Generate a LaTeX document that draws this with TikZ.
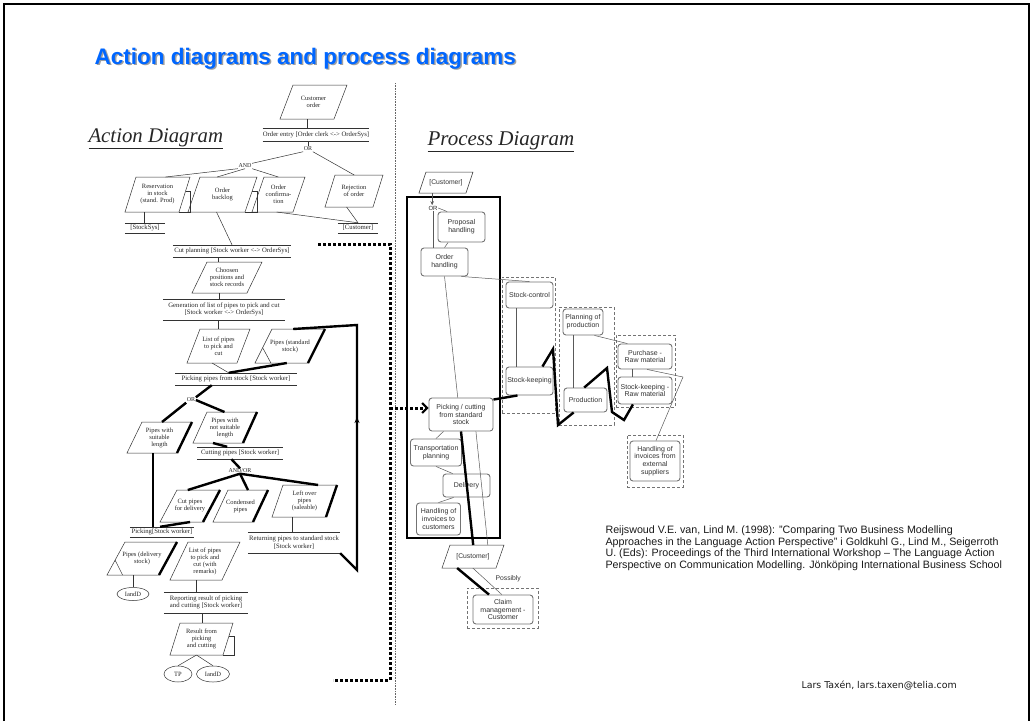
\documentclass[tikz,border=0pt]{standalone}
\usepackage{fontspec}
\setmainfont{Liberation Serif}
\newfontfamily\arialf{Liberation Sans}
\newfontfamily\verdf{DejaVu Sans}
\usetikzlibrary{calc,arrows.meta,shapes.geometric}

\definecolor{titleblue}{RGB}{0,102,255}
\definecolor{shadowgray}{RGB}{160,160,160}

\tikzset{
  pline/.style={draw=black!80, line width=0.5pt},
  thk/.style={draw=black, line width=2.4pt},
  ptxt/.style={font=\fontsize{6.5}{7}\selectfont, align=center, inner sep=0pt, text=black!85},
  actl/.style={font=\fontsize{6.7}{7.6}\selectfont, align=center, inner sep=0pt, text=black!85},
  gate/.style={font=\fontsize{6}{6.5}\selectfont, inner sep=0.5pt, text=black!85},
  oval/.style={ellipse, pline, font=\fontsize{6.5}{7}\selectfont, inner sep=0pt, text=black!85},
  pbox/.style={draw=black!55, line width=0.9pt, rounded corners=3pt, fill=white,
    font=\arialf\fontsize{7}{7.8}\selectfont, align=center, inner sep=0pt, text=black!80},
  grp/.style={draw=black!55, line width=0.8pt, dash pattern=on 3pt off 2pt, inner sep=0pt},
  cline/.style={draw=black!65, line width=0.5pt},
  sqdot/.style={draw=black, line width=3pt, dash pattern=on 3pt off 2pt},
  sepline/.style={draw=black!60, line width=0.8pt, dash pattern=on 1pt off 0.6pt},
  diagtitle/.style={anchor=base west, font=\itshape\fontsize{20.8}{24}\selectfont, text=black!85},
}

% parallelogram: name, x top-left, x top-right, y top, x bottom-left, y bottom, text
\newcommand\pgm[7]{%
  \coordinate (#1-tl) at (#2,#4);
  \coordinate (#1-tr) at (#3,#4);
  \coordinate (#1-bl) at (#5,#6);
  \coordinate (#1-br) at ($(#5,#6)+(#3,0)-(#2,0)$);
  \coordinate (#1-t) at ($(#1-tl)!0.5!(#1-tr)$);
  \coordinate (#1-b) at ($(#1-bl)!0.5!(#1-br)$);
  \draw[pline] (#1-tl) -- (#1-tr) -- (#1-br) -- (#1-bl) -- cycle;
  \node[ptxt] (#1) at ($(#1-tl)!0.5!(#1-br)$) {#7};
}
% action label between two rules: name, x, y, width, height, text
\newcommand\actn[6]{%
  \node[actl, minimum width=#4, minimum height=#5] (#1) at (#2,#3) {#6};
  \draw[pline] (#1.north west) -- (#1.north east) (#1.south west) -- (#1.south east);
}
% stacked-document fold on the right side
\newcommand\docfold[1]{\draw[pline] ($(#1-tr)!0.4!(#1-br)$) -- ++(5,0) |- (#1-br);}
% stock marker in the lower left corner
\newcommand\stockmark[1]{\draw[pline] ($(#1-bl)!0.45!(#1-tl)$) -- ($(#1-bl)!0.3!(#1-br)$);}
% heavy right edge
\newcommand\heavyedge[1]{\draw[thk] (#1-tr) -- (#1-br);}

\begin{document}
\begin{tikzpicture}[x=1pt,y=-1pt]
\useasboundingbox (0,0) rectangle (1033,721);

% page frame
\draw[line width=2.5pt] (4,721) -- (4,4) -- (1029,4) -- (1029,721);

% heading
\node[anchor=base west, font=\arialf\bfseries\fontsize{22.5}{27}\selectfont, text=shadowgray]
  (titleshadow) at (92.5,65.5) {Action diagrams and process diagrams};
\node[anchor=base west, font=\arialf\bfseries\fontsize{22.5}{27}\selectfont, text=titleblue]
  (title) at (91,64) {Action diagrams and process diagrams};

% divider between the two diagrams
\coordinate (sepT) at (395,83);
\coordinate (sepB) at (395,705);
\draw[sepline] (sepT) -- (sepB);

%================ ACTION DIAGRAM =================
\node[diagtitle] (adtitle) at (85,142) {\underline{Action Diagram}};

\pgm{custord}{293}{347}{85}{280}{119}{Customer\\order}
\actn{oe}{316}{134.5}{104}{13}{Order entry [Order clerk <-> OrderSys]}
\draw[pline] (custord-b) -- (custord-b |- oe.north);

\node[gate] (or1) at (308,149) {OR};
\draw[pline] (oe.south -| or1) -- (or1.north);
\node[gate] (and1) at (245,166) {AND};

\pgm{resv}{136}{190}{177}{125}{212}{Reservation\\in stock\\(stand. Prod)}
\docfold{resv}
\pgm{backlog}{200}{257}{177}{188}{212}{Order\\backlog}
\docfold{backlog}
\pgm{confirm}{264}{305}{177}{252}{212}{Order\\confirma-\\tion}
\pgm{rej}{335}{383}{175}{325}{207}{Rejection\\of order}

\draw[pline] (or1.south west) -- (and1.north east);
\draw[pline] (or1.south east) -- ($(rej-tl)!0.4!(rej-tr)$);
\draw[pline] (and1.south west) -- ($(resv-tl)!0.55!(resv-tr)$);
\draw[pline] (and1.south) -- ($(backlog-tl)!0.3!(backlog-tr)$);
\draw[pline] (and1.south east) -- ($(confirm-tl)!0.35!(confirm-tr)$);

\actn{stocksys}{145}{228}{40}{10}{[StockSys]}
\actn{cust1}{358}{228}{40}{10}{[Customer]}
\coordinate (resvout) at ($(resv-bl)!0.35!(resv-br)$);
\draw[pline] (resvout) -- (resvout |- stocksys.north);
\draw[pline] ($(confirm-bl)!0.6!(confirm-br)$) -- (cust1.north);
\draw[pline] ($(rej-bl)!0.45!(rej-br)$) -- (cust1.north);

\actn{cutp}{232}{251}{118}{12}{Cut planning [Stock worker <-> OrderSys]}
\draw[pline] (backlog-b) -- (cutp.north);

\pgm{choosen}{207}{262}{262}{192}{293}{Choosen\\positions and\\stock records}
\coordinate (chin) at ($(choosen-tl)!0.2!(choosen-tr)$);
\draw[pline] (chin |- cutp.south) -- (chin);

\actn{gen}{224}{309.5}{122}{21}{Generation of list of pipes to pick and cut\\{[Stock worker <-> OrderSys]}}
\draw[pline] (choosen-b) -- (choosen-b |- gen.north);

\pgm{list1}{200}{250}{329}{187}{363}{List of pipes\\to pick and\\cut}
\coordinate (l1in) at ($(list1-tl)!0.36!(list1-tr)$);
\draw[pline] (l1in |- gen.south) -- (l1in);

\pgm{pstd}{272}{325}{329}{255}{363}{Pipes (standard\\stock)}
\heavyedge{pstd}
\stockmark{pstd}

\actn{pick}{236}{379}{121}{12}{Picking pipes from stock [Stock worker]}
\draw[pline] (list1-b) -- ($(pick.north west)!0.44!(pick.north east)$);
\draw[thk] ($(pick.north west)!0.44!(pick.north east)$) -- ($(pstd-bl)!0.6!(pstd-br)$);

\node[gate] (or2) at (191,400) {OR};
\draw[thk] ($(pick.south west)!0.3!(pick.south east)$) -- (or2.north east);

\pgm{suit}{142}{192}{422}{127}{453}{Pipes with\\suitable\\length}
\heavyedge{suit}
\pgm{notsuit}{207}{257}{412}{193}{443}{Pipes with\\not suitable\\length}
\heavyedge{notsuit}
\draw[thk] (or2.south west) -- ($(suit-tl)!0.4!(suit-tr)$);
\draw[thk] (or2.east) -- ($(notsuit-tl)!0.35!(notsuit-tr)$);

\actn{cut}{240}{453}{85}{12}{Cutting pipes [Stock worker]}
\draw[thk] ($(notsuit-bl)!0.4!(notsuit-br)$) -- ($(cut.north west)!0.35!(cut.north east)$);

\node[gate] (andor) at (240,471) {AND/OR};
\draw[thk] ($(cut.south west)!0.4!(cut.south east)$) -- (andor.north);

\pgm{cutdel}{177}{220}{490}{160}{522}{Cut pipes\\for delivery}
\heavyedge{cutdel}
\pgm{cond}{228}{268}{490}{213}{522}{Condensed\\pipes}
\heavyedge{cond}
\pgm{leftover}{283}{337}{485}{272}{517}{Left over\\pipes\\(saleable)}
\heavyedge{leftover}
\draw[thk] (andor.south) -- ($(cutdel-tl)!0.25!(cutdel-tr)$);
\draw[thk] (andor.south) -- ($(cond-tl)!0.5!(cond-tr)$);
\draw[thk] (andor.south) -- ($(leftover-tl)!0.65!(leftover-tr)$);

\actn{pkg}{162}{532}{64}{10}{Picking[Stock worker]}
\coordinate (suitout) at ($(suit-bl)!0.52!(suit-br)$);
\draw[thk] (suitout) -- (suitout |- pkg.north);
\draw[thk] ($(cutdel-bl)!0.7!(cutdel-br)$) -- ($(pkg.north west)!0.47!(pkg.north east)$);

\actn{ret}{294}{542.5}{92}{21}{Returning pipes to standard stock\\{[Stock worker]}}
\coordinate (loout) at ($(leftover-bl)!0.37!(leftover-br)$);
\draw[pline] (loout) -- (loout |- ret.north);

% returned pipes go back to the standard stock
\coordinate (retlow) at (357,570);
\coordinate (rettop) at (357,325);
\coordinate (retarrow) at (357,417);
\draw[thk] (ret.south east) -- (retlow) -- (rettop) -- ($(pstd-tl)!0.4!(pstd-tr)$);
\draw[thk, -{Stealth[length=6pt,width=5pt]}] (retlow) -- (retarrow);

\pgm{pdel}{125}{177}{542}{107}{575}{Pipes (delivery\\stock)}
\heavyedge{pdel}
\stockmark{pdel}
\pgm{list2}{188}{240}{542}{170}{580}{List of pipes\\to pick and\\cut (with\\remarks)}

\node[oval, minimum width=32pt, minimum height=13pt] (iand1) at (133,594) {IandD};
\draw[pline] (pdel-b) -- (iand1.north);

\actn{rep}{206}{602.5}{84}{21}{Reporting result of picking\\and cutting [Stock worker]}
\draw[pline] (list2-b) -- (list2-b |- rep.north);

\pgm{result}{180}{233}{623}{170}{655}{Result from\\picking\\and cutting}
\docfold{result}
\coordinate (resin) at ($(result-tl)!0.42!(result-tr)$);
\draw[pline] (resin |- rep.south) -- (resin);

\node[oval, minimum width=28pt, minimum height=16pt] (tp) at (178,674) {TP};
\node[oval, minimum width=33pt, minimum height=16pt] (iand2) at (213,674) {IandD};
\draw[pline] (result-b) -- (tp.north);
\draw[pline] (result-b) -- (iand2.north);

%================ PROCESS DIAGRAM =================
\node[diagtitle, font=\itshape\fontsize{21}{24}\selectfont] (pdtitle) at (424,145) {\underline{Process Diagram}};

\begin{scope}[ptxt/.append style={font=\arialf\fontsize{6.8}{7.6}\selectfont, text=black!80}]
\pgm{custp1}{426}{473}{172}{419}{193}{[Customer]}
\end{scope}

\node[draw=black, line width=1.2pt, minimum width=93pt, minimum height=341pt, inner sep=0pt]
  (orderproc) at (453.5,367.5) {};

\node[gate, font=\arialf\fontsize{6}{6.5}\selectfont] (orp) at (433,208) {OR};
\coordinate (cpout) at ($(custp1-bl)!0.28!(custp1-br)$);
\draw[cline, -{Stealth[length=4pt,width=3.5pt]}] (cpout) -- (cpout |- orp.north);

% dashed groups
\node[grp, minimum width=53pt, minimum height=136pt] (g1) at (528.5,345) {};
\node[grp, minimum width=55pt, minimum height=118pt] (g2) at (586.5,366) {};
\node[grp, minimum width=59pt, minimum height=72pt] (g3) at (645.5,371) {};
\node[grp, minimum width=56pt, minimum height=52pt] (g4) at (655,461) {};
\node[grp, minimum width=71pt, minimum height=40pt] (g5) at (502.5,608) {};

\node[pbox, minimum width=47pt, minimum height=30pt] (prop) at (461.5,227) {Proposal\\handling};
\node[pbox, minimum width=47pt, minimum height=28pt] (ordh) at (444.5,262) {Order\\handling};
\node[pbox, minimum width=47pt, minimum height=26pt] (sctl) at (529.5,295) {Stock-control};
\node[pbox, minimum width=47pt, minimum height=28pt] (skeep) at (529.5,381) {Stock-keeping};
\node[pbox, minimum width=40pt, minimum height=26pt] (plan) at (583,322) {Planning of\\production};
\node[pbox, minimum width=43pt, minimum height=24pt] (prod) at (585.5,400) {Production};
\node[pbox, minimum width=54pt, minimum height=25pt] (purch) at (645,356.5) {Purchase -\\Raw material};
\node[pbox, minimum width=54pt, minimum height=27pt] (skraw) at (645,390.5) {Stock-keeping -\\Raw material};
\node[pbox, minimum width=50pt, minimum height=40pt] (hext) at (655,461) {Handling of\\invoices from\\external\\suppliers};
\node[pbox, minimum width=64pt, minimum height=33pt] (pickc) at (461,414.5) {Picking / cutting\\from standard\\stock};
\node[pbox, minimum width=51pt, minimum height=27pt] (trans) at (436,452.5) {Transportation\\planning};
\node[pbox, minimum width=47pt, minimum height=23pt] (deliv) at (466.5,485.5) {Delivery};
\node[pbox, minimum width=44pt, minimum height=32pt] (hinv) at (438.5,519) {Handling of\\invoices to\\customers};
\node[pbox, minimum width=60pt, minimum height=29pt] (claim) at (503,609.5) {Claim\\management -\\Customer};

\begin{scope}[ptxt/.append style={font=\arialf\fontsize{6.8}{7.6}\selectfont, text=black!80}]
\pgm{custp2}{450}{504}{545}{442}{568}{[Customer]}
\end{scope}

\node[anchor=base west, font=\arialf\fontsize{6.8}{7.5}\selectfont, text=black!80] (possibly) at (492,580) {Possibly};

% thin process links
\draw[cline] (orp.east) -- ($(prop.north west)!0.2!(prop.north east)$);
\draw[cline] (orp.south) -- (orp.south |- ordh.north);
\draw[cline] ($(prop.south west)!0.22!(prop.south east)$) -- (ordh.north);
\draw[cline] ($(ordh.south west)!0.85!(ordh.south east)$) -- (sctl.north);
\draw[cline] (ordh.south) -- ($(pickc.north west)!0.45!(pickc.north east)$);
\coordinate (scl) at ($(sctl.south west)!0.23!(sctl.south east)$);
\draw[cline] (scl) -- (scl |- skeep.north);
\coordinate (pll) at ($(plan.south west)!0.27!(plan.south east)$);
\draw[cline] (pll) -- (pll |- prod.north);
\coordinate (pul) at ($(purch.south west)!0.26!(purch.south east)$);
\draw[cline] (pul) -- (pul |- skraw.north);
\draw[cline] ($(plan.south west)!0.78!(plan.south east)$) -- ($(purch.north west)!0.18!(purch.north east)$);
\coordinate (invbend) at (683,377);
\draw[cline] ($(purch.south west)!0.54!(purch.south east)$) -- (invbend) -- ($(hext.north west)!0.52!(hext.north east)$);
\draw[cline] ($(pickc.south west)!0.23!(pickc.south east)$) -- (trans.north);
\draw[cline] (trans.south) -- ($(deliv.north west)!0.21!(deliv.north east)$);
\draw[cline] ($(deliv.south west)!0.23!(deliv.south east)$) -- (hinv.north);
\draw[cline] ($(pickc.south west)!0.73!(pickc.south east)$) -- ($(custp2-tl)!0.7!(custp2-tr)$);
\draw[cline] ($(custp2-bl)!0.57!(custp2-br)$) -- ($(claim.north west)!0.48!(claim.north east)$);

% heavy process links
\draw[thk] (pickc.south) -- ($(custp2-tl)!0.43!(custp2-tr)$);
\draw[thk] ($(custp2-bl)!0.28!(custp2-br)$) -- ($(claim.north west)!0.27!(claim.north east)$);

\coordinate (z1) at (553,349);
\coordinate (z2) at (558,425);
\coordinate (z3) at (607,368);
\coordinate (z4) at (612,412);
\coordinate (z5) at (624,420);
\draw[thk] ($(pickc.north east)+(0,2)$) -- ($(skeep.south west)!0.25!(skeep.south east)$);
\draw[thk] ($(skeep.north west)!0.77!(skeep.north east)$) -- (z1) -- (z2) -- ($(prod.south west)!0.23!(prod.south east)$);
\draw[thk] ($(prod.north west)!0.47!(prod.north east)$) -- (z3) -- (z4) -- (z5) -- ($(skraw.south west)!0.28!(skraw.south east)$);

% square-dotted link between the two diagrams
\coordinate (d1) at (318,244);
\coordinate (d2) at (390,244);
\coordinate (d3) at (390,680);
\coordinate (d4) at (333,680);
\coordinate (d5) at (390,408);
\draw[sqdot] (d1) -- (d2) -- (d3) -- (d4);
\draw[sqdot, -{Straight Barb[length=5pt,width=10pt,line width=2pt]}] (d5) -- (d5 -| pickc.west);

% source note and author line
\node[anchor=base west, align=left, font=\arialf\fontsize{10.7}{11.6}\selectfont, text=black!90] (source) at (602,568.5)
  {Reijswoud V.E. van, Lind M. (1998): ”Comparing Two Business Modelling\\
   Approaches in the Language Action Perspective” i Goldkuhl G., Lind M., Seigerroth\\
   U. (Eds): Proceedings of the Third International Workshop – The Language Action\\
   Perspective on Communication Modelling. Jönköping International Business School};
\node[anchor=base west, font=\verdf\fontsize{9.4}{11}\selectfont, text=black!90] (author) at (798,688.5)
  {Lars Taxén, lars.taxen@telia.com};
\end{tikzpicture}
\end{document}
